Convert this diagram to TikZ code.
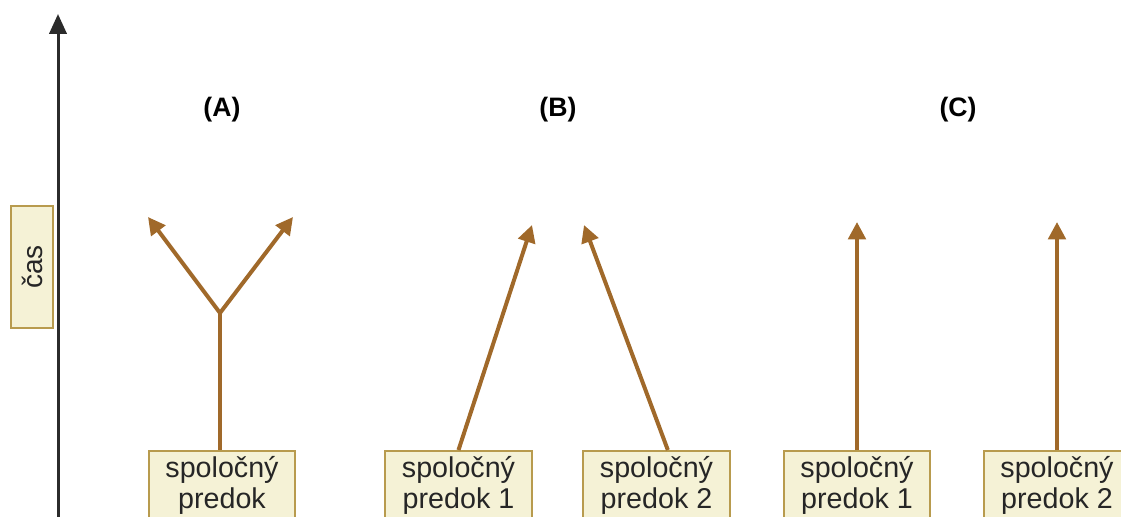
\documentclass[tikz,border=0pt]{standalone}
\usepackage{fontspec}
\setmainfont{Liberation Sans}
\usetikzlibrary{arrows.meta,positioning}
\definecolor{boxfill}{HTML}{F5F2D6}
\definecolor{boxline}{HTML}{B89B4E}
\definecolor{stem}{HTML}{A0692A}
\definecolor{axis}{HTML}{2B2B2B}
\begin{document}
\begin{tikzpicture}[x=0.75pt,y=-0.75pt]
\tikzstyle{anc}=[draw=boxline,line width=1.5pt,fill=boxfill,minimum width=110pt,
  anchor=north,align=center,font=\fontsize{21.5}{23.5}\selectfont,inner xsep=0pt,inner ysep=4pt,text=black!85]
\tikzstyle{lineage}=[stem,line width=3pt,-{Triangle[length=13pt,width=13pt]}]
\tikzstyle{panel}=[font=\fontsize{20}{22}\selectfont\bfseries]
\useasboundingbox (0,0) rectangle (1121,517);
\clip (0,0) rectangle (1121,517);
% time axis
\coordinate (t0) at (58,530);
\coordinate (t1) at (58,14);
\draw [axis,line width=2.25pt,-{Triangle[length=15pt,width=13pt]}] (t0) -- (t1);
\node [draw=boxline,line width=1.5pt,fill=boxfill,minimum width=92pt,minimum height=31pt,
  rotate=90,font=\fontsize{21}{22.5}\selectfont,text=black!85] (cas) at (32,267) {čas};
% panel labels
\node [panel] (la) at (222,110) {(A)};
\node [panel] (lb) at (558,110) {(B)};
\node [panel] (lc) at (958,110) {(C)};
% (A)
\node [anc] (a) at (222,450) {spoločný\\predok\strut\\[4pt]};
\coordinate (fork) at (220,313);
\coordinate (a1) at (148,217);
\coordinate (a2) at (293,217);
\draw [stem,line width=3pt] ([xshift=-1.5pt]a.north) -- (fork);
\draw [lineage] (fork) -- (a1);
\draw [lineage] (fork) -- (a2);
% (B)
\node [anc] (b1) at (458.5,450) {spoločný\\predok 1\strut\\[4pt]};
\node [anc] (b2) at (656.5,450) {spoločný\\predok 2\strut\\[4pt]};
\coordinate (b1t) at (532,225);
\coordinate (b2t) at (584,225);
\draw [lineage] (b1.north) -- (b1t);
\draw [lineage] ([xshift=8.5pt]b2.north) -- (b2t);
% (C)
\node [anc] (c1) at (857,450) {spoločný\\predok 1\strut\\[4pt]};
\node [anc] (c2) at (1057,450) {spoločný\\predok 2\strut\\[4pt]};
\coordinate (c1t) at (857,222);
\coordinate (c2t) at (1057,222);
\draw [lineage] (c1.north) -- (c1t);
\draw [lineage] (c2.north) -- (c2t);
\end{tikzpicture}
\end{document}
